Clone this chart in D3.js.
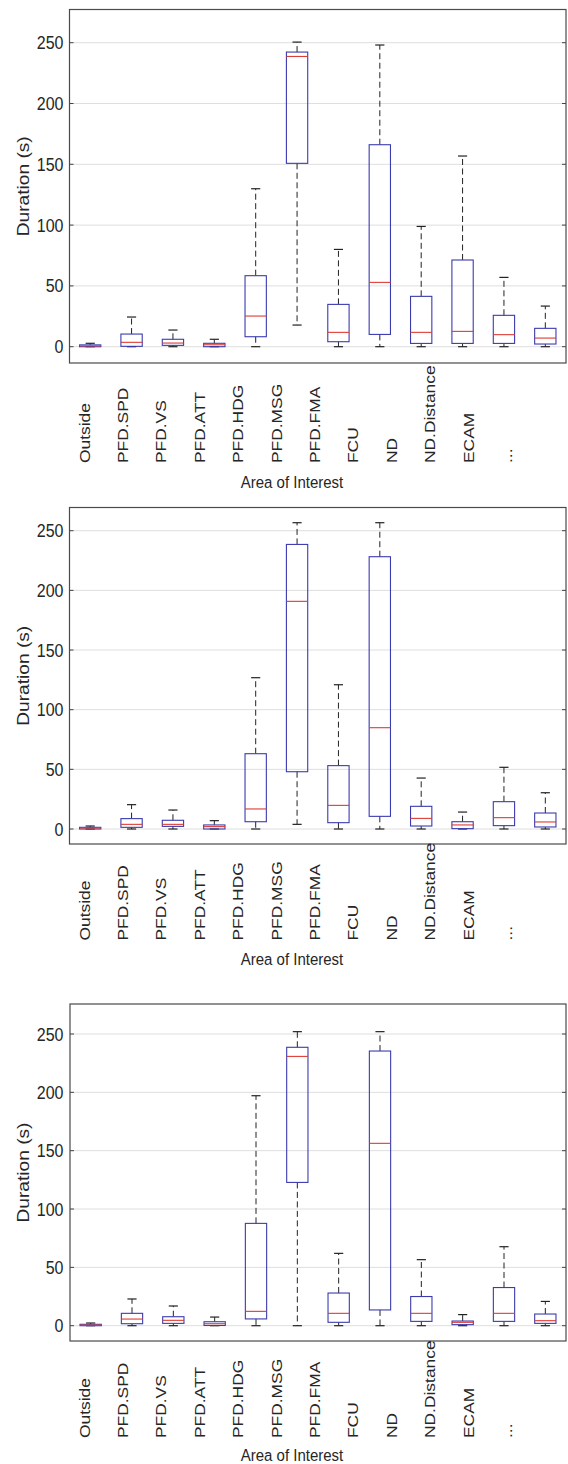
<!DOCTYPE html>
<html>
<head>
<meta charset="utf-8">
<script src="https://cdn.jsdelivr.net/npm/d3@7"></script>
<style>
  html, body { margin: 0; padding: 0; background: #fff; }
  svg { display: block; }
  text { font-family: "Liberation Sans", Arial, Helvetica, sans-serif; fill: #262626; }
</style>
</head>
<body>
<svg id="chart" width="568" height="1464"></svg>
<script>
// ---------- data ----------
const categories = ["Outside","PFD.SPD","PFD.VS","PFD.ATT","PFD.HDG","PFD.MSG","PFD.FMA","FCU","ND","ND.Distance","ECAM","..."];
const yTicks = [0, 50, 100, 150, 200, 250];
const yLabel = "Duration (s)";
const xLabel = "Area of Interest";

// Panel 1
const p1Min = [0, 0, 0, 0, 0, 17.8, 0, 0, 0, 0, 0, 0];
const p1Q1  = [0, 0.3, 1.1, 0, 8.2, 150.8, 4.1, 10.1, 2.7, 2.7, 2.7, 2.2];
const p1Med = [0.7, 3.6, 3.0, 1.6, 25.2, 238.7, 11.8, 52.9, 11.8, 12.6, 9.9, 7.1];
const p1Q3  = [1.5, 10.4, 6.1, 2.8, 58.4, 242.3, 34.8, 166.1, 41.4, 71.3, 25.8, 15.1];
const p1Max = [2.8, 24.4, 13.7, 6.1, 129.9, 250.5, 80.0, 248.1, 98.9, 156.8, 57.0, 33.4];

// Panel 2
const p2Min = [0, 0, 0, 0, 0, 3.9, 0, 0, 0, 0, 0, 0];
const p2Q1  = [0, 1.4, 2.2, 0, 6.1, 48.0, 5.3, 10.6, 2.5, 0.3, 2.8, 1.7];
const p2Med = [0.8, 3.9, 3.9, 2.0, 16.8, 190.8, 19.8, 84.9, 8.9, 3.4, 9.5, 5.9];
const p2Q3  = [1.4, 8.7, 7.3, 3.4, 63.1, 238.5, 53.1, 228.2, 19.0, 6.1, 22.9, 13.4];
const p2Max = [2.5, 20.4, 15.9, 7.0, 126.8, 256.7, 120.9, 256.7, 42.7, 14.2, 51.7, 30.4];

// Panel 3
const p3Min = [0, 0, 0, 0, 0, 0, 0, 0, 0, 0, 0, 0];
const p3Q1  = [0, 1.7, 2.0, 0.2, 5.8, 122.8, 2.9, 13.5, 3.7, 0.9, 3.7, 2.0];
const p3Med = [0.5, 5.7, 4.6, 1.7, 12.3, 230.8, 10.6, 156.3, 10.6, 2.9, 10.6, 4.3];
const p3Q3  = [1.2, 10.6, 7.7, 3.4, 87.7, 238.6, 28.0, 235.4, 25.0, 4.0, 32.7, 10.0];
const p3Max = [2.3, 22.9, 16.9, 7.4, 197.1, 252.0, 62.0, 252.0, 56.6, 9.5, 67.7, 20.8];

// ---------- layout ----------
const panels = [
  { min: p1Min, q1: p1Q1, med: p1Med, q3: p1Q3, max: p1Max,
    left: 69.5, right: 566, top: 9.5, bottom: 363, y0: 346.7, y250: 42.7, labelBase: 463, xlabelBase: 488 },
  { min: p2Min, q1: p2Q1, med: p2Med, q3: p2Q3, max: p2Max,
    left: 69.5, right: 566, top: 507.5, bottom: 844, y0: 829, y250: 530.7, labelBase: 940.5, xlabelBase: 965 },
  { min: p3Min, q1: p3Q1, med: p3Med, q3: p3Q3, max: p3Max,
    left: 70, right: 566, top: 1004, bottom: 1341, y0: 1325.7, y250: 1034, labelBase: 1438, xlabelBase: 1460.5 }
];

const STRETCH = 1.16;
const svg = d3.select("#chart");

panels.forEach(p => {
  const g = svg.append("g");
  const x = d3.scaleBand().domain(categories).range([p.left, p.right])
    .paddingInner(0.485).paddingOuter(0.2425);
  const y = d3.scaleLinear().domain([0, 250]).range([p.y0, p.y250]);
  const xl = d3.scalePoint().domain(categories).range([89.5, 89.5 + 38.4 * 11]);

  // grid lines
  g.selectAll("line.grid").data(yTicks).join("line")
    .attr("x1", p.left).attr("x2", p.right)
    .attr("y1", d => y(d)).attr("y2", d => y(d))
    .attr("stroke", "#dedede").attr("stroke-width", 1);

  // tick marks (left & right, inward)
  g.selectAll("line.tl").data(yTicks).join("line")
    .attr("x1", p.left).attr("x2", p.left + 4)
    .attr("y1", d => y(d)).attr("y2", d => y(d))
    .attr("stroke", "#444").attr("stroke-width", 1);
  g.selectAll("line.tr").data(yTicks).join("line")
    .attr("x1", p.right - 4).attr("x2", p.right)
    .attr("y1", d => y(d)).attr("y2", d => y(d))
    .attr("stroke", "#444").attr("stroke-width", 1);

  // y tick labels
  g.selectAll("text.yt").data(yTicks).join("text")
    .attr("transform", d => `translate(63.5,${y(d)}) scale(1,${STRETCH})`)
    .attr("text-anchor", "end").attr("dy", "0.35em")
    .style("font-size", "16px")
    .text(d => d);

  const idx = d3.range(categories.length);
  const bw = x.bandwidth();
  const cx = i => x(categories[i]) + bw / 2;
  const capW = bw * 0.43;

  // whiskers (dashed)
  g.selectAll("line.wu").data(idx).join("line")
    .attr("x1", cx).attr("x2", cx)
    .attr("y1", i => y(p.q3[i])).attr("y2", i => y(p.max[i]))
    .attr("stroke", "#222").attr("stroke-width", 1).attr("stroke-dasharray", "6,3.5");
  g.selectAll("line.wl").data(idx).join("line")
    .attr("x1", cx).attr("x2", cx)
    .attr("y1", i => y(p.q1[i])).attr("y2", i => y(p.min[i]))
    .attr("stroke", "#222").attr("stroke-width", 1).attr("stroke-dasharray", "6,3.5");
  // caps
  g.selectAll("line.cu").data(idx).join("line")
    .attr("x1", i => cx(i) - capW / 2).attr("x2", i => cx(i) + capW / 2)
    .attr("y1", i => y(p.max[i])).attr("y2", i => y(p.max[i]))
    .attr("stroke", "#222").attr("stroke-width", 1.2);
  g.selectAll("line.cl").data(idx).join("line")
    .attr("x1", i => cx(i) - capW / 2).attr("x2", i => cx(i) + capW / 2)
    .attr("y1", i => y(p.min[i])).attr("y2", i => y(p.min[i]))
    .attr("stroke", "#222").attr("stroke-width", 1.2);

  // boxes
  g.selectAll("rect.box").data(idx).join("rect")
    .attr("x", i => x(categories[i])).attr("width", bw)
    .attr("y", i => y(p.q3[i]))
    .attr("height", i => Math.max(0.5, y(p.q1[i]) - y(p.q3[i])))
    .attr("fill", "none").attr("stroke", "#3b3bb0").attr("stroke-width", 1.1);

  // medians
  g.selectAll("line.med").data(idx).join("line")
    .attr("x1", i => x(categories[i])).attr("x2", i => x(categories[i]) + bw)
    .attr("y1", i => y(p.med[i])).attr("y2", i => y(p.med[i]))
    .attr("stroke", "#dd3b33").attr("stroke-width", 1.1);

  // frame
  g.append("rect")
    .attr("x", p.left).attr("y", p.top)
    .attr("width", p.right - p.left).attr("height", p.bottom - p.top)
    .attr("fill", "none").attr("stroke", "#4a4a4a").attr("stroke-width", 1.2);

  // x tick labels (rotated)
  g.selectAll("text.xt").data(categories).join("text")
    .attr("transform", d => `translate(${xl(d)},${p.labelBase}) scale(1,${STRETCH}) rotate(-90)`)
    .attr("text-anchor", "start")
    .style("font-size", "15px")
    .text(d => d);

  // x label
  g.append("text")
    .attr("transform", `translate(292,${p.xlabelBase}) scale(1,${STRETCH})`)
    .attr("text-anchor", "middle")
    .style("font-size", "15px")
    .text(xLabel);

  // y label
  g.append("text")
    .attr("transform", `translate(28.5,${(p.top + p.bottom) / 2}) scale(1,${STRETCH}) rotate(-90)`)
    .attr("text-anchor", "middle")
    .style("font-size", "16.5px")
    .text(yLabel);
});
</script>
</body>
</html>
